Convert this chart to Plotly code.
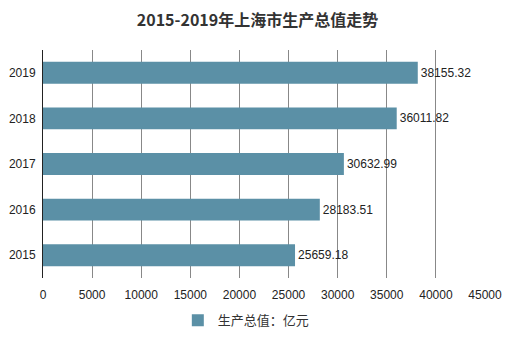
import plotly.graph_objects as go

years = ["2015", "2016", "2017", "2018", "2019"]
gdp = [25659.18, 28183.51, 30632.99, 36011.82, 38155.32]
x_ticks = [0, 5000, 10000, 15000, 20000, 25000, 30000, 35000, 40000, 45000]

fig = go.Figure()
fig.add_trace(go.Bar(
    y=years, x=gdp, orientation="h",
    marker=dict(color="#5B90A6", line=dict(width=0)),
    width=0.48,
    text=[f"{v:.2f}" for v in gdp], textposition="outside",
    textfont=dict(size=12, color="#222222", family="Liberation Sans, Arial, sans-serif"),
    cliponaxis=False,
    name="生产总值：亿元", showlegend=True,
))

fig.update_layout(
    width=515, height=340,
    margin=dict(l=43, r=30, t=50, b=62, autoexpand=False),
    paper_bgcolor="white", plot_bgcolor="white",
    title=dict(text="<b>2015-2019年上海市生产总值走势</b>", x=0.5, xanchor="center", y=0.94, yanchor="middle",
               font=dict(size=16, color="#333333", family="Noto Sans CJK SC, sans-serif")),
    font=dict(family="Liberation Sans, Arial, sans-serif", size=12, color="#222222"),
    xaxis=dict(range=[0, 45000], tickvals=x_ticks, ticktext=[str(t) for t in x_ticks],
               showgrid=True, gridcolor="#888888", gridwidth=1, zeroline=False,
               showline=False, ticks="outside", ticklen=6, tickcolor="rgba(0,0,0,0)",
               tickfont=dict(size=12, color="#222222")),
    yaxis=dict(categoryorder="array", categoryarray=years, showline=True, linecolor="#222222", linewidth=1,
               ticks="outside", ticklen=4, tickcolor="rgba(0,0,0,0)", showgrid=False,
               tickfont=dict(size=12, color="#222222")),
    legend=dict(orientation="h", x=0.46, xanchor="center", y=-0.185, yanchor="middle",
                itemwidth=30,
                font=dict(size=13, color="#333333", family="Noto Sans CJK SC, sans-serif")),
    bargap=0.5,
)

fig.write_html("out.html")
